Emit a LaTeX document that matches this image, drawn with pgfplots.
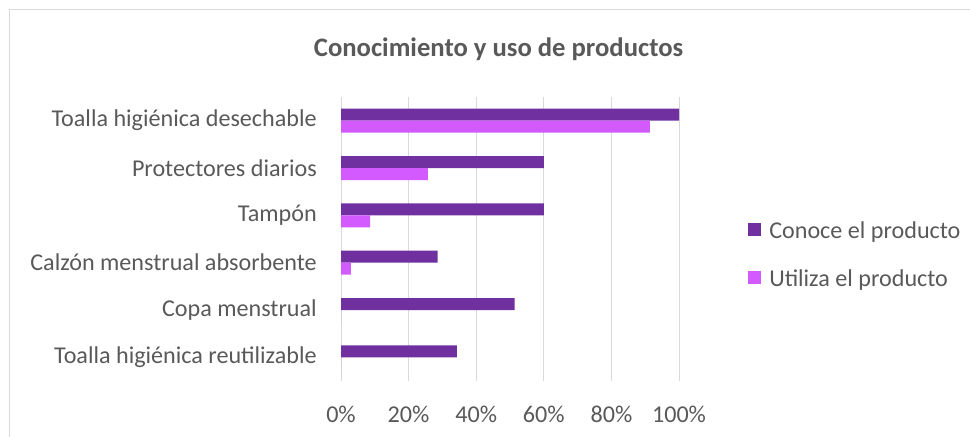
\documentclass[border=0pt]{standalone}
\usepackage{fontspec}
\setmainfont{Carlito}
\usepackage{pgfplots}
\pgfplotsset{compat=1.18}
\definecolor{conoce}{HTML}{7030A0}
\definecolor{utiliza}{HTML}{D25AFE}
\definecolor{txt}{HTML}{595959}
\definecolor{gridc}{HTML}{D9D9D9}
\begin{document}
\begin{tikzpicture}
\useasboundingbox (0,0) rectangle (727.5pt,327pt);
\draw[gridc, line width=0.75pt] (6.75pt,-10pt) -- (6.75pt,319.5pt) -- (740pt,319.5pt);
\node[anchor=base, font=\fontsize{20}{24}\selectfont\bfseries, text=txt, inner sep=0pt] at (373.9pt,284.5pt) {Conocimiento y uso de productos};
\begin{axis}[
 at={(255.75pt,41.25pt)}, anchor=south west,
 scale only axis, width=253.5pt, height=213pt,
 xbar, bar width=9pt,
 xmin=0, xmax=100, ymin=-0.5, ymax=5.5,
 xtick={0,20,40,60,80,100},
 xticklabels={0\%,20\%,40\%,60\%,80\%,100\%},
 ytick={0,...,5},
 yticklabels={Toalla higiénica reutilizable, Copa menstrual, Calzón menstrual absorbente, Tampón, Protectores diarios, Toalla higiénica desechable},
 axis line style={draw=none},
 xmajorgrids, major grid style={gridc, line width=0.75pt},
 major tick length=0pt,
 tick label style={font=\fontsize{18.1}{21}\selectfont, text=txt},
 xticklabel style={anchor=north, inner sep=0pt, yshift=-18.5pt},
 yticklabel style={anchor=east, inner sep=0pt, xshift=-18pt},
 clip=false,
 legend style={draw=none, fill=none, at={(1.2041,0.4437)}, anchor=west, font=\fontsize{18.1}{21}\selectfont, text=txt, row sep=18pt, inner sep=0pt,
   /tikz/every odd column/.append style={column sep=4pt}},
 legend cell align=left,
 legend image code/.code={\fill[#1] (0pt,-4pt) rectangle (9.75pt,5.75pt);},
]
\addplot[fill=conoce, draw=none, bar shift=4.5pt] coordinates {(100,5) (60,4) (60,3) (28.6,2) (51.4,1) (34.3,0)};
\addplot[fill=utiliza, draw=none, bar shift=-4.5pt] coordinates {(91.4,5) (25.7,4) (8.6,3) (2.9,2) (0,1) (0,0)};
\legend{Conoce el producto, Utiliza el producto}
\end{axis}
\end{tikzpicture}
\end{document}
